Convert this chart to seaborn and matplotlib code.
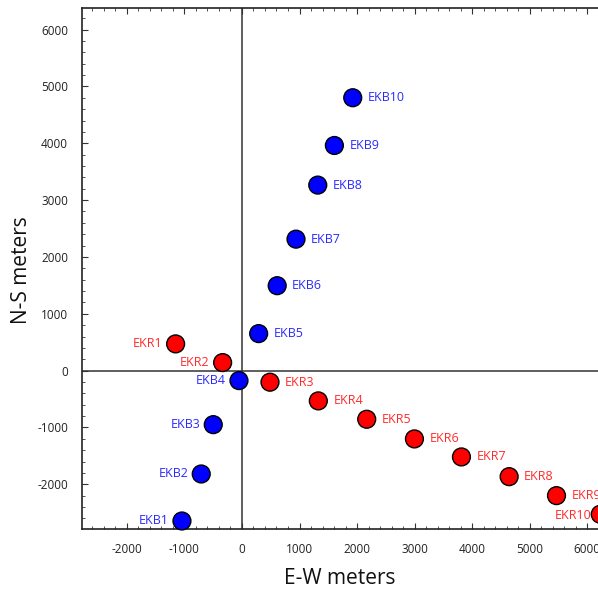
import matplotlib
matplotlib.use("Agg")
import matplotlib.pyplot as plt
import seaborn as sns
import pandas as pd
from matplotlib.ticker import MultipleLocator

# point names and coordinates (meters)
ekb_names = ["EKB1", "EKB2", "EKB3", "EKB4", "EKB5", "EKB6", "EKB7", "EKB8", "EKB9", "EKB10"]
ekb_x = [-1043, -708, -499, -52, 290, 612, 939, 1317, 1606, 1925]
ekb_y = [-2646, -1819, -951, -176, 651, 1494, 2313, 3264, 3961, 4801]

ekr_names = ["EKR1", "EKR2", "EKR3", "EKR4", "EKR5", "EKR6", "EKR7", "EKR8", "EKR9", "EKR10"]
ekr_x = [-1153, -336, 487, 1327, 2168, 2997, 3814, 4643, 5466, 6226]
ekr_y = [470, 141, -204, -533, -856, -1202, -1519, -1866, -2200, -2528]

# which side the label sits on
ekb_side = ["left", "left", "left", "left", "right", "right", "right", "right", "right", "right"]
ekr_side = ["left", "left", "right", "right", "right", "right", "right", "right", "right", "left"]

df = pd.DataFrame({
    "name": ekb_names + ekr_names,
    "x": ekb_x + ekr_x,
    "y": ekb_y + ekr_y,
    "group": ["EKB"] * 10 + ["EKR"] * 10,
    "side": ekb_side + ekr_side,
})

sns.set_style("white")
plt.rcParams["font.family"] = ["Open Sans", "DejaVu Sans"]
plt.rcParams["axes.unicode_minus"] = False

fig = plt.figure(figsize=(5.98, 5.90), dpi=100)
W, H = 598, 590
ax = fig.add_axes([82 / W, 61 / H, 534 / W, 521 / H])

ax.axhline(0, color="#333333", lw=1.1, zorder=1)
ax.axvline(0, color="#333333", lw=1.1, zorder=1)

sns.scatterplot(data=df, x="x", y="y", hue="group",
                palette={"EKB": "#0000ff", "EKR": "#ff0000"},
                s=165, edgecolor="black", linewidth=1.0, legend=False,
                ax=ax, zorder=3, clip_on=False)

text_col = {"EKB": "#2a2aff", "EKR": "#ff2a2a"}
for _, r in df.iterrows():
    if r["side"] == "right":
        off, ha = (15, 0), "left"
    else:
        off, ha = (-13, 0), "right"
    if r["name"] == "EKR10":
        off = (-9, -1)
    ax.annotate(r["name"], (r["x"], r["y"]), xytext=off, textcoords="offset pixels",
                ha=ha, va="center", fontsize=9, color=text_col[r["group"]])

ax.set_xlim(-2780, 6500)
ax.set_ylim(-2787, 6380)
ax.xaxis.set_major_locator(MultipleLocator(1000))
ax.yaxis.set_major_locator(MultipleLocator(1000))
ax.xaxis.set_minor_locator(MultipleLocator(200))
ax.yaxis.set_minor_locator(MultipleLocator(200))
ax.tick_params(which="both", direction="in", top=True, right=False, bottom=True, left=True,
               color="#333333")
ax.tick_params(which="major", length=4, width=0.8, labelsize=8.5, labelcolor="#222222", pad=10)
ax.tick_params(which="minor", length=2, width=0.6)

for sp in ["left", "bottom", "top"]:
    ax.spines[sp].set_color("#222222")
    ax.spines[sp].set_linewidth(1.2)
ax.spines["right"].set_visible(False)

ax.set_xlabel("E-W meters", fontsize=15, color="#111111")
ax.set_ylabel("N-S meters", fontsize=15, color="#111111")
ax.xaxis.set_label_coords((340 - 82) / 534, -(578 - 529) / 521)
ax.yaxis.set_label_coords(-(82 - 22) / 534, (529 - 270) / 521)
ax.xaxis.label.set_va("center")
ax.yaxis.label.set_va("center")

fig.savefig("out.png", dpi=100)
